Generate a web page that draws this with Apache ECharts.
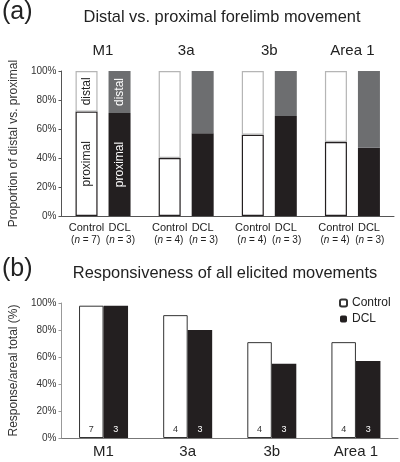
<!DOCTYPE html>
<html>
<head>
    <meta charset="utf-8">
    <title>Forelimb movement</title>
    <script src="https://cdn.jsdelivr.net/npm/echarts@6/dist/echarts.min.js"></script>
    <style>
        html, body { margin: 0; padding: 0; background: #fff; }
        #chart { width: 400px; height: 462px; }
    </style>
</head>
<body>
<div id="chart"></div>
<script type="text/javascript">
    // areas
    var areas = ['M1', '3a', '3b', 'Area 1'];
    // number of animals
    var nControl = [7, 4, 4, 4];
    var nDCL = [3, 3, 3, 3];
    // (a) proportion of proximal / distal movements (%)
    var ctrlProximal = [72, 40, 56, 51];
    var ctrlDistal = [28, 60, 44, 49];
    var dclProximal = [71, 57, 69, 47];
    var dclDistal = [29, 43, 31, 53];
    // (b) responsiveness (%)
    var respControl = [98, 91, 71, 71];
    var respDCL = [98, 80, 55, 57];

    var font = "'Liberation Sans', Arial, sans-serif";

    // label only on the first bar (M1)
    function firstLabel(values, text, color) {
        return values.map(function (v, i) {
            if (i !== 0) return v;
            return {
                value: v,
                label: {
                    show: true, position: 'inside', rotate: 90,
                    formatter: text, color: color, fontSize: 12, fontFamily: font
                }
            };
        });
    }

    var myChart = echarts.init(document.getElementById('chart'));

    var yAxisBase = {
        type: 'value', min: 0, max: 100, interval: 20,
        axisLine: {show: true, lineStyle: {color: '#555'}},
        axisTick: {show: true, length: 3, lineStyle: {color: '#555'}},
        splitLine: {show: false},
        axisLabel: {formatter: '{value}%', fontSize: 10, color: '#333', margin: 5},
        nameLocation: 'middle',
        nameTextStyle: {fontSize: 12, color: '#333'}
    };

    var option = {
        animation: false,
        textStyle: {fontFamily: font},
        graphic: [
            {type: 'text', left: 2, top: 0, style: {text: '(a)', fontSize: 25, fontFamily: font, fill: '#222'}},
            {type: 'text', x: 222, y: 17, style: {text: 'Distal vs. proximal forelimb movement', fontSize: 16.4, fontFamily: font, fill: '#222', align: 'center', verticalAlign: 'middle'}},
            {type: 'text', left: 2, top: 257, style: {text: '(b)', fontSize: 25, fontFamily: font, fill: '#222'}},
            {type: 'text', x: 225, y: 273, style: {text: 'Responsiveness of all elicited movements', fontSize: 16.4, fontFamily: font, fill: '#222', align: 'center', verticalAlign: 'middle'}}
        ],
        legend: {
            data: ['Control', 'DCL'],
            orient: 'vertical',
            left: 339, top: 297,
            padding: 0,
            itemWidth: 7, itemHeight: 7, itemGap: 4,
            textStyle: {fontSize: 12, color: '#222'}
        },
        grid: [
            {left: 50, width: 344, top: 71, height: 145},
            {left: 55, width: 343, top: 303, height: 135}
        ],
        xAxis: [
            {
                type: 'category', gridIndex: 0, data: areas,
                axisLine: {lineStyle: {color: '#555'}},
                axisTick: {show: false},
                axisLabel: {
                    interval: 0, hideOverlap: false,
                    margin: 6,
                    formatter: function (v, i) {
                        return '{c|Control}{c|DCL}\n{t|(}{i|n}{t| = ' + nControl[i] + ')  (}{i|n}{t| = ' + nDCL[i] + ')}';
                    },
                    rich: {
                        c: {fontSize: 11, width: 33, align: 'center', color: '#222', lineHeight: 12},
                        t: {fontSize: 10, color: '#222', lineHeight: 12},
                        i: {fontSize: 10, fontStyle: 'italic', color: '#222', lineHeight: 12}
                    }
                }
            },
            {
                type: 'category', gridIndex: 0, data: areas, position: 'top',
                axisLine: {show: false}, axisTick: {show: false},
                axisLabel: {interval: 0, fontSize: 15, color: '#222', margin: 13}
            },
            {
                type: 'category', gridIndex: 1, data: areas,
                axisLine: {lineStyle: {color: '#777'}},
                axisTick: {show: false},
                axisLabel: {interval: 0, fontSize: 15, color: '#222', margin: 6}
            }
        ],
        yAxis: [
            Object.assign({}, yAxisBase, {gridIndex: 0, name: 'Proportion of distal vs. proximal', nameGap: 36}),
            Object.assign({}, yAxisBase, {
                gridIndex: 1, name: 'Response/areal total (%)', nameGap: 40,
                axisLine: {show: true, lineStyle: {color: '#999'}},
                axisTick: {show: true, length: 3, lineStyle: {color: '#999'}}
            })
        ],
        series: [
            {
                name: 'Control proximal', type: 'bar', stack: 'ctrl', xAxisIndex: 0, yAxisIndex: 0,
                barWidth: 22, barGap: '50%',
                itemStyle: {color: '#fff', borderColor: '#231f20', borderWidth: 1.2},
                data: firstLabel(ctrlProximal, 'proximal', '#222')
            },
            {
                name: 'Control distal', type: 'bar', stack: 'ctrl', xAxisIndex: 0, yAxisIndex: 0,
                barWidth: 22, barGap: '50%',
                itemStyle: {color: '#fff', borderColor: '#b5b5b5', borderWidth: 1.2},
                data: firstLabel(ctrlDistal, 'distal', '#222')
            },
            {
                name: 'DCL proximal', type: 'bar', stack: 'dcl', xAxisIndex: 0, yAxisIndex: 0,
                barWidth: 22, barGap: '50%',
                itemStyle: {color: '#231f20'},
                data: firstLabel(dclProximal, 'proximal', '#fff')
            },
            {
                name: 'DCL distal', type: 'bar', stack: 'dcl', xAxisIndex: 0, yAxisIndex: 0,
                barWidth: 22, barGap: '50%',
                itemStyle: {color: '#6d6e70'},
                data: firstLabel(dclDistal, 'distal', '#fff')
            },
            {
                name: 'Control', type: 'bar', xAxisIndex: 2, yAxisIndex: 1,
                barWidth: 24.5, barGap: '0%',
                itemStyle: {color: '#fff', borderColor: '#333', borderWidth: 1},
                label: {
                    show: true, position: 'insideBottom', distance: 4, fontSize: 9, color: '#333',
                    formatter: function (p) { return nControl[p.dataIndex]; }
                },
                data: respControl
            },
            {
                name: 'DCL', type: 'bar', xAxisIndex: 2, yAxisIndex: 1,
                barWidth: 24.5, barGap: '0%',
                itemStyle: {color: '#231f20'},
                label: {
                    show: true, position: 'insideBottom', distance: 4, fontSize: 9, color: '#fff',
                    formatter: function (p) { return nDCL[p.dataIndex]; }
                },
                data: respDCL
            }
        ]
    };

    myChart.setOption(option);
</script>
</body>
</html>
